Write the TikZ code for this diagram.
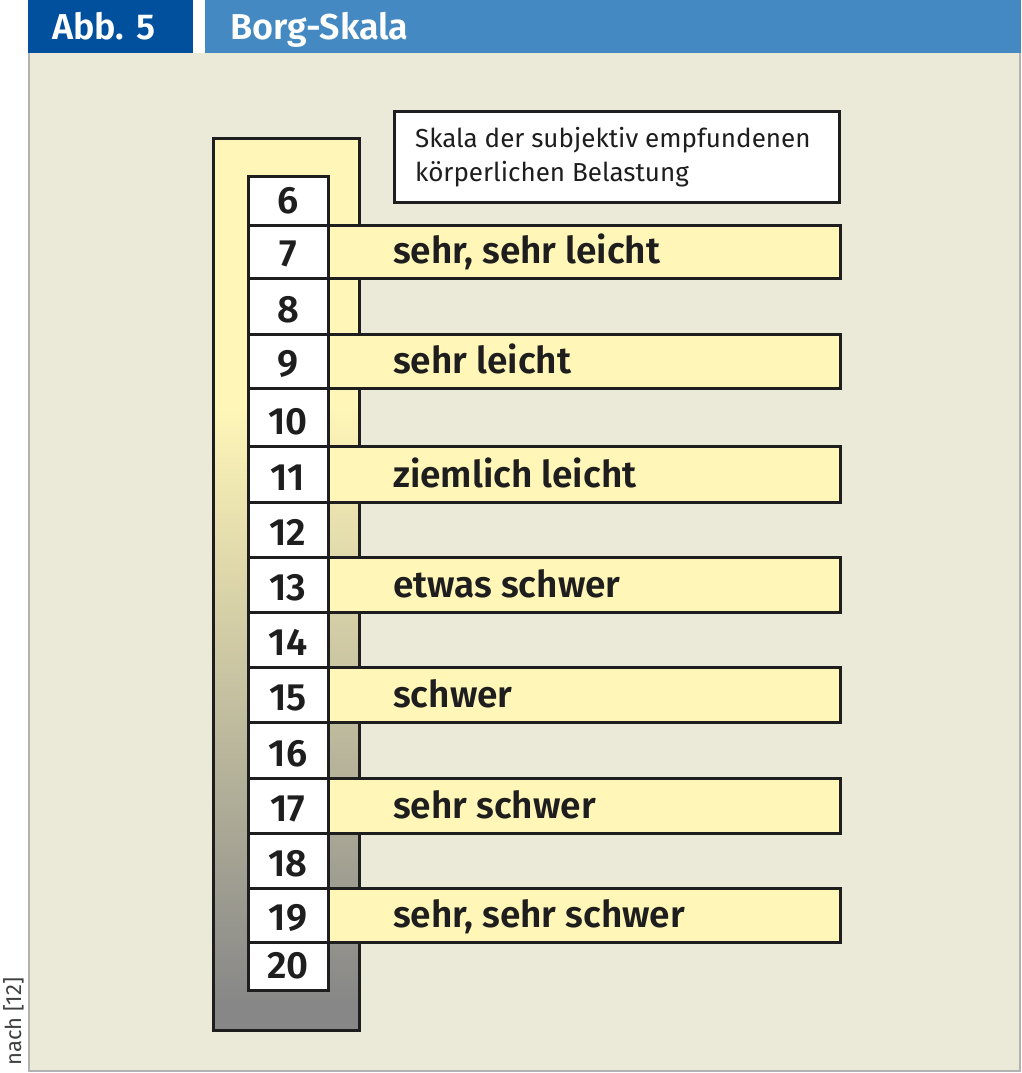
\documentclass[tikz,border=0pt]{standalone}
\usepackage{fontspec}
\setmainfont{Fira Sans}[BoldFont={Fira Sans SemiBold}]
\definecolor{bg}{HTML}{EBE9D8}
\definecolor{dkblue}{HTML}{00509E}
\definecolor{ltblue}{HTML}{4589C2}
\definecolor{ye}{HTML}{FFF6B8}
\definecolor{gr}{HTML}{878787}
\definecolor{edge}{HTML}{1E1E1E}
\pgfdeclareverticalshading{borg}{100bp}{color(0bp)=(gr); color(26.5bp)=(gr); color(60bp)=(ye); color(100bp)=(ye)}
\begin{document}
\begin{tikzpicture}[x=1pt,y=-1pt,
  cell/.style={fill=white,draw=edge,line width=3pt},
  bar/.style={fill=ye,draw=edge,line width=3pt},
  num/.style={font=\bfseries\fontsize{38}{40}\selectfont,anchor=base,text=edge,inner sep=0},
  lab/.style={font=\bfseries\fontsize{37}{40}\selectfont,anchor=base west,text=edge,inner sep=0},
  head/.style={font=\bfseries\fontsize{36}{40}\selectfont,anchor=base west,text=white,inner sep=0}]
\useasboundingbox (0,0) rectangle (1021,1073);
\fill[white] (0,0) rectangle (1021,1073);
\fill[bg] (28,53) rectangle (1020,1071);
\draw[color=gray!60,line width=2pt] (29,53) -- (29,1071) -- (1020,1071) -- (1020,53);
% header
\fill[dkblue] (28,0) rectangle (193,53);
\fill[ltblue] (205,0) rectangle (1021,53);
\node[head] (abb) at (52,40) {Abb. 5};
\node[head] (title) at (230,40) {Borg-Skala};
% source
\node[rotate=90,anchor=base west,font=\fontsize{22}{24}\selectfont,text=black!75,inner sep=0] (src) at (21,1066) {nach [12]};
% info box
\node[draw=edge,line width=3pt,fill=white,minimum width=445,minimum height=91,anchor=north west] (info) at (393,110) {};
\node[anchor=base west,inner sep=0,font=\fontsize{26}{34}\selectfont,text=edge] (info1) at (415,147) {Skala der subjektiv empfundenen};
\node[anchor=base west,inner sep=0,font=\fontsize{26}{34}\selectfont,text=edge] (info2) at (415,181) {körperlichen Belastung};
% frame
\shade[shading=borg,draw=edge,line width=3pt] (213,138) rectangle (359,1030);
% bars
\foreach \t/\b/\txt in {225/278/{sehr, sehr leicht},334/388/{sehr leicht},446/502/{ziemlich leicht},557/612/{etwas schwer},667/722/{schwer},778/833/{sehr schwer},888/942/{sehr, sehr schwer}}{
  \draw[bar] (328,\t) rectangle (840,\b);
  \node[lab] (l\t) at (393,\b-15) {\txt};
}
% cells
\foreach \t/\b/\n in {176/225/6,225/278/7,278/334/8,334/388/9,388/446/10,446/502/11,502/557/12,557/612/13,612/667/14,667/722/15,722/778/16,778/833/17,833/888/18,888/942/19,942/990/20}{
  \draw[cell] (248,\t) rectangle (328,\b);
  \node[num] (n\n) at (288,\b-12) {\n};
}
\end{tikzpicture}
\end{document}
